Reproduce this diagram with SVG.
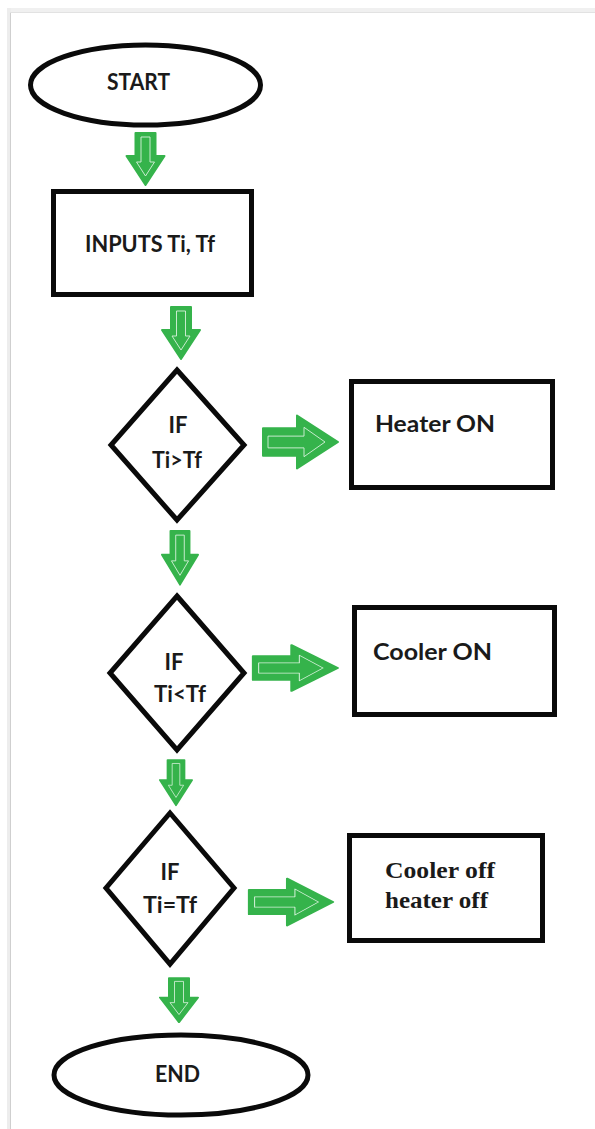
<svg xmlns="http://www.w3.org/2000/svg" width="595" height="1129" viewBox="0 0 595 1129">
<style>
.shape{fill:#ffffff;stroke:#0a0a0a;stroke-width:5;stroke-linejoin:miter}
.term{fill:#ffffff;stroke:#0a0a0a;stroke-width:5}
.lbl{font-family:Lato,"Liberation Sans",sans-serif;font-weight:bold;fill:#1a1a1a}
.serif{font-family:"Liberation Serif","Times New Roman",serif;font-weight:bold;fill:#1a1a1a}
.arr{fill:#35b34b;stroke:#35b34b;stroke-width:2;stroke-linejoin:round}
.inner{fill:none;stroke:#d8f2dc;stroke-width:0.9;stroke-linejoin:round}
</style>
<defs>
<g id="down">
<path class="arr" d="M-10,0 H10 V23 H19 L0,52 L-19,23 H-10 Z"/>
<path class="inner" d="M-4.5,4 H4.5 V29 H9 L0,43 L-9,29 H-4.5 Z"/>
</g>
<g id="right">
<path class="arr" d="M0,-14 H34 V-27 L75,0 L34,27 V14 H0 Z"/>
<path class="inner" d="M5,-6 H41 V-15 L62,0 L41,15 V6 H5 Z"/>
</g>
</defs>
<rect x="0" y="0" width="595" height="1129" fill="#ffffff"/>
<rect x="7" y="8" width="588" height="5" fill="#f0f0f0"/>
<rect x="7" y="8" width="4" height="1121" fill="#ededed"/>
<line x1="10.5" y1="12" x2="10.5" y2="1129" stroke="#cfcfcf" stroke-width="1"/>
<line x1="10" y1="12.5" x2="595" y2="12.5" stroke="#e2e2e2" stroke-width="1"/>

<g id="connectors">
<use href="#down" transform="translate(145.5,133)"/>
<use href="#down" transform="translate(181,307)"/>
<use href="#down" transform="translate(180,531) scale(0.95,1.03)"/>
<use href="#down" transform="translate(176,760) scale(0.85,0.87)"/>
<use href="#down" transform="translate(179,978) scale(1,0.85)"/>
<use href="#right" transform="translate(263,442) scale(1,0.98)"/>
<use href="#right" transform="translate(253,668) scale(1.13,0.85)"/>
<use href="#right" transform="translate(249,902) scale(1.12,0.87)"/>
</g>

<g id="start">
<ellipse class="term" cx="145.5" cy="85" rx="115" ry="40"/>
<text class="lbl" x="138.5" y="90" font-size="23" text-anchor="middle" textLength="63" lengthAdjust="spacingAndGlyphs">START</text>
</g>

<g id="inputs">
<rect class="shape" x="53.5" y="191.5" width="198" height="103"/>
<text class="lbl" x="150" y="252" font-size="23" text-anchor="middle" textLength="130" lengthAdjust="spacingAndGlyphs">INPUTS Ti, Tf</text>
</g>

<g id="if1">
<polygon class="shape" points="177,370 244,445 177,520 111,445"/>
<text class="lbl" x="178" y="433" font-size="22" text-anchor="middle">IF</text>
<text class="lbl" x="177" y="468" font-size="22" text-anchor="middle" textLength="50" lengthAdjust="spacingAndGlyphs">Ti&gt;Tf</text>
</g>

<g id="heater">
<rect class="shape" x="351.5" y="381.5" width="201" height="106"/>
<text class="lbl" x="375" y="432" font-size="22" textLength="120" lengthAdjust="spacingAndGlyphs">Heater ON</text>
</g>

<g id="if2">
<polygon class="shape" points="177,596 244,673 177,750 110,673"/>
<text class="lbl" x="174" y="670" font-size="22" text-anchor="middle">IF</text>
<text class="lbl" x="180" y="702" font-size="22" text-anchor="middle" textLength="52" lengthAdjust="spacingAndGlyphs">Ti&lt;Tf</text>
</g>

<g id="cooler">
<rect class="shape" x="354.5" y="607.5" width="200" height="107"/>
<text class="lbl" x="373" y="660" font-size="22" textLength="119" lengthAdjust="spacingAndGlyphs">Cooler ON</text>
</g>

<g id="if3">
<polygon class="shape" points="170,813 234,888 170,964 106,888"/>
<text class="lbl" x="170" y="880" font-size="22" text-anchor="middle">IF</text>
<text class="lbl" x="170" y="913" font-size="22" text-anchor="middle" textLength="54" lengthAdjust="spacingAndGlyphs">Ti=Tf</text>
</g>

<g id="off">
<rect class="shape" x="349.5" y="835.5" width="193" height="105"/>
<text class="serif" x="440" y="878" font-size="24" text-anchor="middle" textLength="110" lengthAdjust="spacingAndGlyphs">Cooler off</text>
<text class="serif" x="436.5" y="908" font-size="24" text-anchor="middle" textLength="103" lengthAdjust="spacingAndGlyphs">heater off</text>
</g>

<g id="end">
<ellipse class="term" cx="181" cy="1075" rx="127" ry="40"/>
<text class="lbl" x="177.5" y="1082" font-size="23" text-anchor="middle" textLength="45" lengthAdjust="spacingAndGlyphs">END</text>
</g>
</svg>
